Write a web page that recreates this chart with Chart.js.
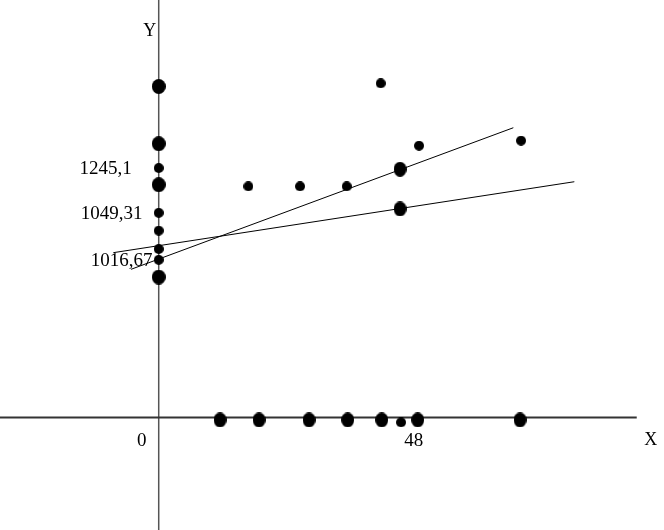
<!DOCTYPE html>
<html>
<head>
<meta charset="utf-8">
<script src="https://cdn.jsdelivr.net/npm/chart.js@4"></script>
<style>
  html, body { margin: 0; padding: 0; background: #fff; }
  #wrap { width: 664px; height: 530px; }
</style>
</head>
<body>
<div id="wrap"><canvas id="plot" width="664" height="530"></canvas></div>
<script>
// points sitting on the Y axis (x = 0)
const yAxisBigY = [61.3, 50.7, 43.1, 26.0];
const yAxisSmallY = [46.2, 37.9, 34.6, 31.2, 29.2];

// points sitting on the X axis
const xAxisBigX = [11.36, 18.58, 27.85, 35.01, 41.31, 47.98, 66.93];
const xAxisSmallX = [44.89];

// free points
const freeSmallX = [16.6, 26.18, 34.83, 41.13, 48.22, 67.12];
const freeSmallY = [42.81, 42.81, 42.81, 61.88, 50.33, 51.26];
const freeBigX = [44.7, 44.7];
const freeBigY = [45.96, 38.61];

// two straight lines (end points)
const line1X = [-5.13, 65.69];
const line1Y = [27.44, 53.66];
const line2X = [-8.41, 76.99];
const line2Y = [30.52, 43.66];

// axes extents
const xAxisX = [-29.4, 88.55];
const yAxisY = [-20.83, 77.31];

// tick labels
const xTickValues = [0, 48];
const xTickLabels = ["0", "48"];
const yTickValues = [46.2, 37.9, 29.2];
const yTickLabels = ["1245,1", "1049,31", "1016,67"];

// filled ellipse used as a point marker
function dot(w, h) {
  const c = document.createElement("canvas");
  c.width = w; c.height = h;
  const g = c.getContext("2d");
  g.fillStyle = "#000";
  g.beginPath();
  g.ellipse(w / 2, h / 2, w / 2, h / 2, 0, 0, Math.PI * 2);
  g.fill();
  return c;
}
const bigDot = dot(13, 15);
const bigDotWide = dot(14, 15);
const smallDot = dot(10, 10);

const pts = (xs, ys) => xs.map((x, i) => ({ x: x, y: ys[i] }));

const labelsPlugin = {
  id: "labels",
  afterDatasetsDraw(chart) {
    const ctx = chart.ctx;
    const sx = chart.scales.x, sy = chart.scales.y;
    ctx.save();
    ctx.fillStyle = "#000";
    ctx.textAlign = "center";
    ctx.textBaseline = "middle";
    ctx.font = '19px "Liberation Serif", serif';
    const y0 = sy.getPixelForValue(0);
    const x0 = sx.getPixelForValue(0);
    // x ticks sit a little left of their value, below the axis
    const xShift = [-17, -4];
    xTickValues.forEach((v, i) => {
      ctx.fillText(xTickLabels[i], sx.getPixelForValue(v) + xShift[i], y0 + 24);
    });
    // y ticks, left of the vertical axis
    const yShift = [-53, -47, -37];
    yTickValues.forEach((v, i) => {
      ctx.fillText(yTickLabels[i], x0 + yShift[i], sy.getPixelForValue(v) + 1);
    });
    ctx.font = '18px "Liberation Serif", serif';
    ctx.fillText("X", sx.getPixelForValue(xAxisX[1]) + 14, y0 + 23);
    ctx.fillText("Y", x0 - 9, sy.getPixelForValue(yAxisY[1]) + 31);
    ctx.restore();
  }
};

new Chart(document.getElementById("plot").getContext("2d"), {
  type: "scatter",
  data: {
    datasets: [
      { data: pts(xAxisX, [0, 0]), showLine: true, borderColor: "#333", borderWidth: 2, pointRadius: 0, order: 4 },
      { data: pts([0, 0], yAxisY), showLine: true, borderColor: "#555", borderWidth: 1.5, pointRadius: 0, order: 4 },
      { data: pts(line1X, line1Y), showLine: true, borderColor: "#000", borderWidth: 1, pointRadius: 0, order: 3 },
      { data: pts(line2X, line2Y), showLine: true, borderColor: "#000", borderWidth: 1, pointRadius: 0, order: 3 },
      { data: yAxisBigY.map(y => ({ x: 0, y: y })), pointStyle: bigDotWide, order: 1 },
      { data: yAxisSmallY.map(y => ({ x: 0, y: y })), pointStyle: smallDot, order: 1 },
      { data: xAxisBigX.map(x => ({ x: x, y: -0.45 })), pointStyle: bigDot, order: 1 },
      { data: xAxisSmallX.map(x => ({ x: x, y: -0.9 })), pointStyle: smallDot, order: 1 },
      { data: pts(freeSmallX, freeSmallY), pointStyle: smallDot, order: 1 },
      { data: pts(freeBigX, freeBigY), pointStyle: bigDot, order: 1 }
    ]
  },
  options: {
    responsive: false,
    animation: false,
    events: [],
    layout: { padding: 0, autoPadding: false },
    plugins: {
      legend: { display: false },
      tooltip: { enabled: false }
    },
    scales: {
      x: { type: "linear", min: -29.4, max: 93.6, display: false },
      y: { type: "linear", min: -20.83, max: 77.31, display: false }
    }
  },
  plugins: [labelsPlugin]
});
</script>
</body>
</html>
